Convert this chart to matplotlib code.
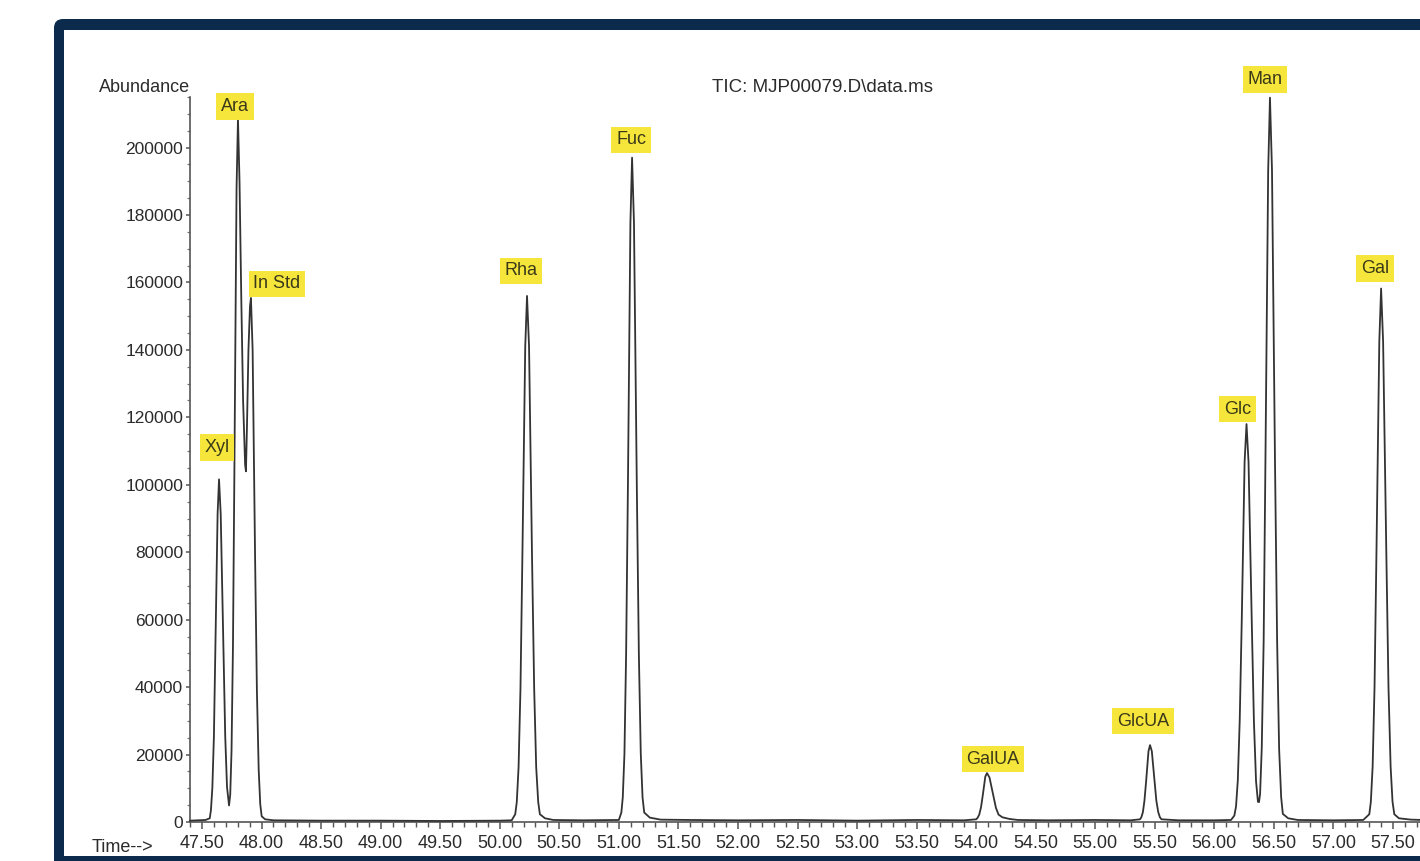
import matplotlib
matplotlib.use("Agg")
import matplotlib.pyplot as plt
from matplotlib.patches import FancyBboxPatch, Rectangle
from matplotlib.ticker import MultipleLocator, FormatStrFormatter, FixedLocator

plt.rcParams['font.family'] = ['Liberation Sans', 'DejaVu Sans']

# ---------------- data ----------------
time_min = [
    47.40, 47.47, 47.53, 47.565, 47.575, 47.587, 47.600, 47.612, 47.631, 47.643,
    47.657, 47.680, 47.695, 47.710, 47.727, 47.737, 47.748, 47.760, 47.772, 47.790,
    47.802, 47.815, 47.830, 47.845, 47.862, 47.869, 47.878, 47.890, 47.903, 47.911,
    47.925, 47.946, 47.961, 47.976, 47.989, 48.001, 48.03, 48.10, 48.50, 49.00,
    49.50, 50.00, 50.10,
    50.130, 50.143, 50.158, 50.174, 50.190, 50.214, 50.229, 50.246, 50.271, 50.289,
    50.306, 50.323, 50.337, 50.38, 50.45, 50.70, 51.00,
    51.021, 51.033, 51.047, 51.061, 51.076, 51.097, 51.111, 51.127, 51.151, 51.168,
    51.184, 51.199, 51.213, 51.26, 51.35, 51.60, 52.00, 52.50, 53.00, 53.50, 53.90,
    54.001, 54.013, 54.026, 54.041, 54.056, 54.077, 54.091, 54.112, 54.144, 54.166,
    54.188, 54.22, 54.28, 54.35, 54.60, 55.00, 55.30,
    55.376, 55.387, 55.400, 55.413, 55.427, 55.447, 55.460, 55.475, 55.498, 55.513,
    55.529, 55.543, 55.556, 55.70, 56.00, 56.14,
    56.168, 56.182, 56.197, 56.213, 56.230, 56.254, 56.270, 56.287, 56.314, 56.332,
    56.350, 56.366, 56.375, 56.384, 56.398, 56.414, 56.429, 56.452, 56.467, 56.484,
    56.509, 56.527, 56.544, 56.561, 56.575, 56.62, 56.70, 57.00, 57.25,
    57.301, 57.314, 57.329, 57.345, 57.361, 57.385, 57.400, 57.417, 57.444, 57.462,
    57.480, 57.496, 57.511, 57.55, 57.65, 57.75,
]
abundance = [
    400, 500, 600, 1100, 3500, 10200, 25400, 50800, 91400, 101600,
    91400, 50800, 25400, 10400, 4900, 8100, 21200, 52200, 104300, 187700,
    208600, 190000, 155000, 125000, 106000, 104000, 118000, 140000, 153000, 155400,
    140000, 77700, 38900, 15500, 5300, 1700, 800, 500, 400, 400,
    300, 400, 500,
    2300, 5900, 16200, 39600, 78600, 141000, 156000, 141000, 78600, 39600,
    16200, 5900, 2300, 1100, 600, 500, 600,
    2800, 7300, 20300, 49800, 99000, 177600, 197000, 177600, 99000, 49800,
    20300, 7300, 2800, 1300, 700, 600, 500, 600, 400, 600, 500,
    800, 1300, 2200, 4400, 8000, 13500, 14500, 13200, 7800, 4200,
    2200, 1400, 900, 600, 500, 600, 500,
    800, 1400, 2900, 6300, 12000, 21000, 22800, 21000, 12000, 6300,
    2900, 1400, 800, 500, 500, 600,
    1900, 4600, 12400, 30100, 59600, 106800, 118000, 106800, 59600, 30100,
    12100, 6000, 5900, 8300, 21900, 53700, 107400, 193300, 214800, 193300,
    107400, 53700, 21500, 7300, 2400, 1100, 600, 500, 600,
    2300, 6000, 16400, 40100, 79700, 142400, 158200, 142400, 79700, 40100,
    16400, 6000, 2300, 1100, 700, 600,
]

peak_names = ['Xyl', 'Ara', 'In Std', 'Rha', 'Fuc', 'GalUA', 'GlcUA', 'Glc', 'Man', 'Gal']
peak_rt = [47.643, 47.802, 47.911, 50.229, 51.111, 54.091, 55.460, 56.270, 56.467, 57.400]
peak_height = [101600, 208600, 155400, 156000, 197000, 14500, 22800, 118000, 214800, 158200]

x_tick_values = [47.50, 48.00, 48.50, 49.00, 49.50, 50.00, 50.50, 51.00, 51.50, 52.00,
                 52.50, 53.00, 53.50, 54.00, 54.50, 55.00, 55.50, 56.00, 56.50, 57.00, 57.50]

title_text = 'TIC: MJP00079.D\\data.ms'
y_label_text = 'Abundance'
x_label_text = 'Time-->'

# ---------------- layout / style ----------------
W, H = 1420, 861
NAVY = '#0b2a4c'
YELLOW = '#f6e53a'
INK = '#2b2b2b'

fig = plt.figure(figsize=(W / 100, H / 100), dpi=100)
fig.patch.set_facecolor('white')

# navy frame (display pixel coordinates)
frame = FancyBboxPatch((54, -30), W, (H - 19) + 30,
                       boxstyle='round,pad=0,rounding_size=9',
                       transform=None, facecolor=NAVY, edgecolor='none', zorder=-3)
fig.add_artist(frame)
inner = Rectangle((64, H - 856), W, 856 - 30, transform=None,
                  facecolor='white', edgecolor='none', zorder=-2)
fig.add_artist(inner)

ax_left, ax_right, ax_top, ax_bottom = 190, 1420, 97, 822
ax = fig.add_axes([ax_left / W, (H - ax_bottom) / H,
                   (ax_right - ax_left) / W, (ax_bottom - ax_top) / H])
ax.patch.set_alpha(0)
ax.set_zorder(1)

ax.plot(time_min, abundance, color='#333333', lw=1.3, clip_on=False, zorder=3)

for s in ['top', 'right']:
    ax.spines[s].set_visible(False)
for s in ['left', 'bottom']:
    ax.spines[s].set_color('#555555')
    ax.spines[s].set_linewidth(1.2)

ax.xaxis.set_major_locator(FixedLocator(x_tick_values))
ax.xaxis.set_minor_locator(MultipleLocator(0.1))
ax.xaxis.set_major_formatter(FormatStrFormatter('%.2f'))
ax.yaxis.set_major_locator(MultipleLocator(20000))
ax.yaxis.set_minor_locator(MultipleLocator(5000))
ax.yaxis.set_major_formatter(FormatStrFormatter('%d'))

px_per_min = 119.1
ax.set_xlim(47.50 - (202 - ax_left) / px_per_min, 47.50 + (ax_right - 202) / px_per_min)
ax.set_ylim(0, 215000)

ax.tick_params(axis='x', which='major', direction='out', length=5, width=1.1,
               color='#555555', pad=4, labelsize=13, labelcolor=INK)
ax.tick_params(axis='x', which='minor', direction='out', length=3.5, width=1.0,
               color='#555555')
ax.tick_params(axis='y', which='major', direction='out', length=3, width=1.1,
               color='#555555', pad=2, labelsize=12.5, labelcolor=INK)
ax.tick_params(axis='y', which='minor', direction='out', length=2, width=0.9,
               color='#777777')

# title and axis texts
fig.text(822 / W, 1 - 87 / H, title_text, ha='center', va='center',
         fontsize=13.5, color=INK)
fig.text(190 / W, 1 - 87 / H, y_label_text, ha='right', va='center',
         fontsize=13, color=INK)
fig.text(92 / W, 1 - 847 / H, x_label_text, ha='left', va='center',
         fontsize=13, color=INK)

# peak labels (offsets in pixels from each apex)
label_offsets = {
    'Xyl': (-2, 32), 'Ara': (-3, 12), 'In Std': (26, 14), 'Rha': (-6, 25),
    'Fuc': (-1, 18), 'GalUA': (6, 14), 'GlcUA': (-7, 24), 'Glc': (-9, 15),
    'Man': (-5, 18), 'Gal': (-6, 20),
}
for name, rt, h in zip(peak_names, peak_rt, peak_height):
    dx, dy = label_offsets[name]
    ax.annotate(name, xy=(rt, h), xytext=(dx, dy), textcoords='offset pixels',
                ha='center', va='center', fontsize=13, color='#3a3a1a',
                annotation_clip=False, zorder=5,
                bbox=dict(boxstyle='square,pad=0.26', fc=YELLOW, ec='none'))

fig.savefig('out.png', dpi=100)
